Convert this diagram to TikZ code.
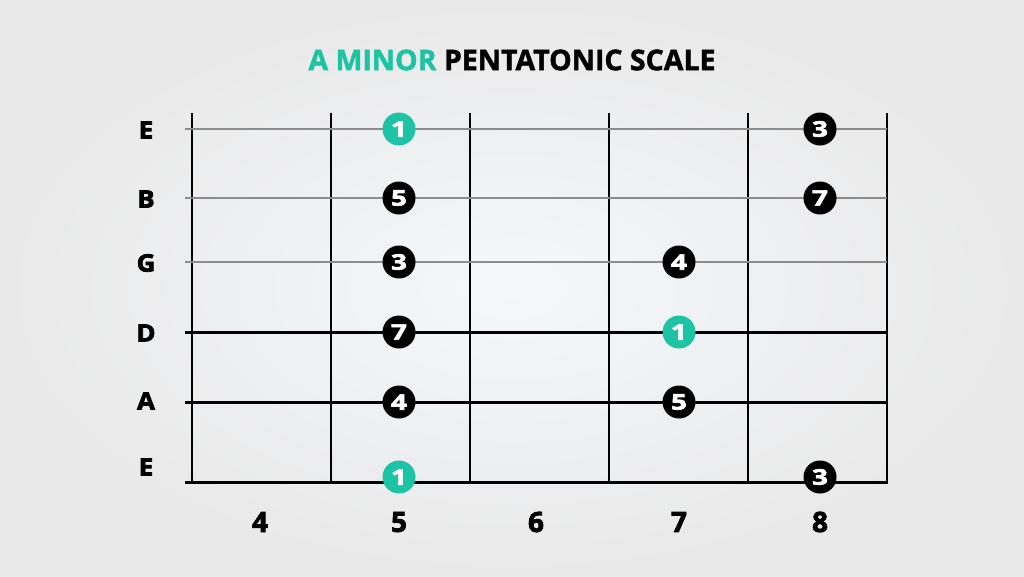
\documentclass[tikz,border=0pt]{standalone}
\usepackage{fontspec}
\setmainfont{Open Sans}
\newfontfamily\heavyfont[BoldFeatures={FakeBold=2.5}]{Open Sans}
\newfontfamily\labelface[BoldFeatures={FakeBold=3,FakeStretch=1.08}]{Open Sans}
\newfontfamily\dotface[BoldFeatures={FakeBold=3,FakeStretch=1.3}]{Open Sans}
\newfontfamily\titlefont[BoldFeatures={FakeBold=1.5}]{Open Sans}
\newcommand\labfont{\labelface\bfseries\fontsize{24}{24}\selectfont}
\newcommand\numfont{\heavyfont\bfseries\fontsize{28}{28}\selectfont}
\newcommand\dotfont{\dotface\bfseries\fontsize{21.5}{21.5}\selectfont}
\definecolor{teal1}{HTML}{1CC3A4}
\definecolor{bgin}{HTML}{F5F7FB}
\definecolor{bgout}{HTML}{E9E9E9}
\definecolor{thin}{HTML}{8C8C8C}
\begin{document}
\begin{tikzpicture}[x=1pt,y=-1pt,
  thinstr/.style={draw=thin,line width=1.6pt},
  thickstr/.style={draw=black,line width=3pt},
  fretline/.style={draw=black,line width=1.6pt},
  strlab/.style={anchor=center,inner sep=0pt},
  fretnum/.style={anchor=center,inner sep=0pt},
  dotb/.style={circle,fill=black,minimum size=33pt,inner sep=0pt,text=white},
  dott/.style={dotb,fill=teal1}]
\shade[inner color=bgin,outer color=bgout] (0,0) rectangle (1024,576);
\useasboundingbox (0,0) rectangle (1024,576);
\node (title) at (512,60) {\titlefont\bfseries\fontsize{28.5}{28.5}\selectfont\textcolor{teal1}{A MINOR} PENTATONIC SCALE};
% string labels
\node[strlab] (l1) at (146,130) {\labfont E};
\node[strlab] (l2) at (146,199) {\labfont B};
\node[strlab] (l3) at (146,263) {\labfont G};
\node[strlab] (l4) at (146,333) {\labfont D};
\node[strlab] (l5) at (146,401) {\labfont A};
\node[strlab] (l6) at (146,467) {\labfont E};
% fret coordinates
\foreach \i/\x in {0/192,1/331,2/470,3/609,4/748,5/887}{
  \coordinate (ft\i) at (\x,113);
  \coordinate (fb\i) at (\x,484);
}
\foreach \i in {0,...,5}{\draw[fretline] (ft\i) -- (fb\i);}
% strings
\foreach \i/\y in {1/129,2/198,3/262}{
  \coordinate (sl\i) at (185,\y); \coordinate (sr\i) at (887,\y);
  \draw[thinstr] (sl\i) -- (sr\i);
}
\foreach \i/\y in {4/332,5/402,6/482}{
  \coordinate (sl\i) at (185,\y); \coordinate (sr\i) at (888,\y);
  \draw[thickstr] (sl\i) -- (sr\i);
}
% fret numbers
\node[fretnum] (n4) at (260,522) {\numfont 4};
\node[fretnum] (n5) at (399,522) {\numfont 5};
\node[fretnum] (n6) at (536,522) {\numfont 6};
\node[fretnum] (n7) at (679,522) {\numfont 7};
\node[fretnum] (n8) at (820,522) {\numfont 8};
% dots
\node[dott] (d1) at (399,129) {\dotfont 1};
\node[dotb] (d2) at (399,198) {\dotfont 5};
\node[dotb] (d3) at (399,262) {\dotfont 3};
\node[dotb] (d4) at (399,332) {\dotfont 7};
\node[dotb] (d5) at (399,402) {\dotfont 4};
\node[dott] (d6) at (399,477) {\dotfont 1};
\node[dotb] (d7) at (679,262) {\dotfont 4};
\node[dott] (d8) at (679,332) {\dotfont 1};
\node[dotb] (d9) at (679,402) {\dotfont 5};
\node[dotb] (d10) at (820,129) {\dotfont 3};
\node[dotb] (d11) at (820,198) {\dotfont 7};
\node[dotb] (d12) at (820,477) {\dotfont 3};
\end{tikzpicture}
\end{document}
